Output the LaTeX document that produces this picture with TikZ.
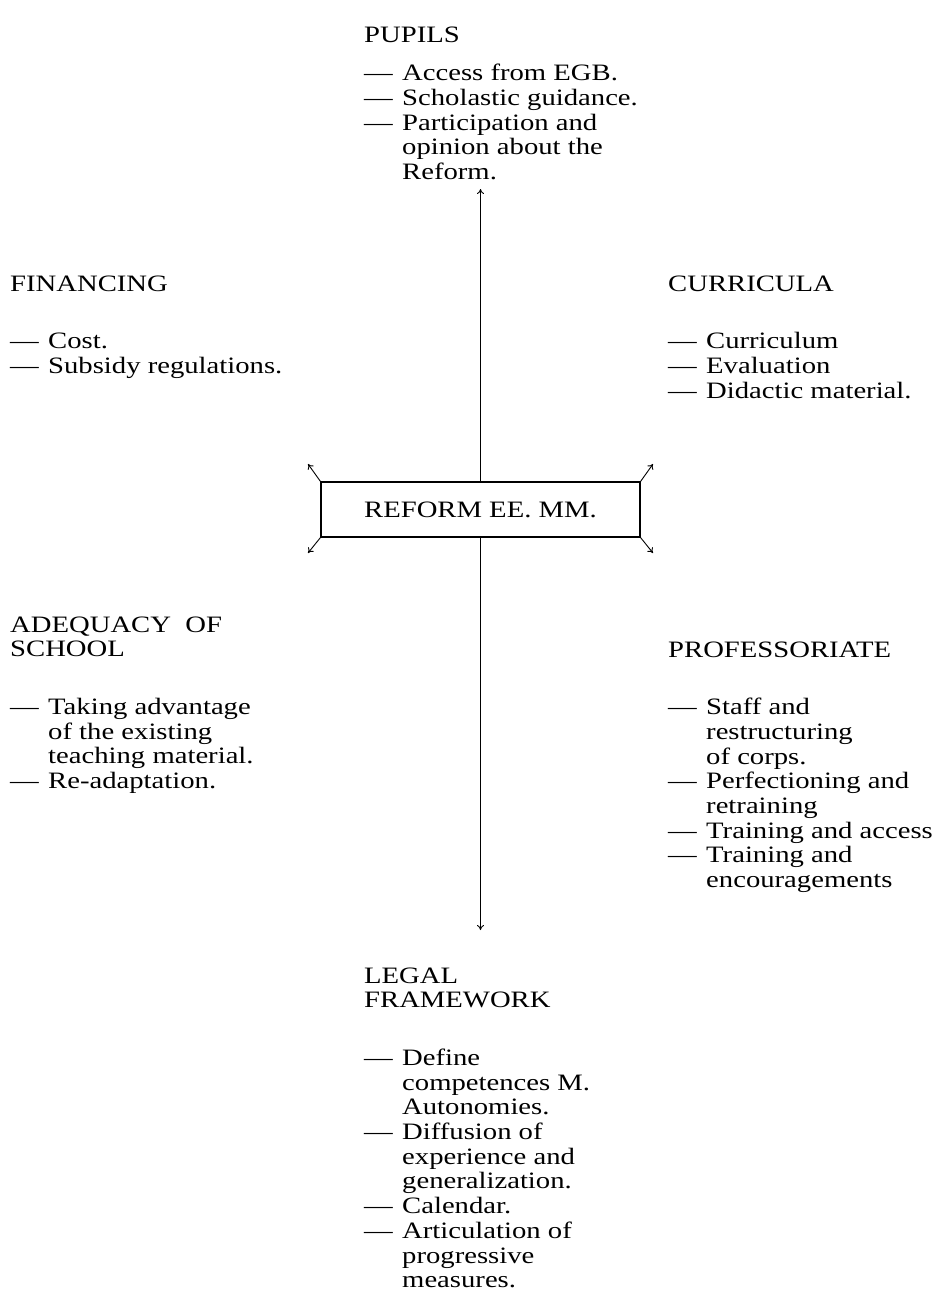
\documentclass[tikz,border=0pt]{standalone}
\usepackage{fontspec}
\setmainfont[FakeStretch=1.22]{Liberation Serif}
\usetikzlibrary{arrows.meta}
\newcommand{\hd}[1]{\multicolumn{2}{@{}l@{}}{#1}}
\newcommand{\dd}{\makebox[38pt][l]{—}}
\begin{document}
\begin{tikzpicture}[x=1pt,y=-1pt,
  blk/.style={anchor=base west, inner sep=0pt, font=\fontsize{23.5}{24.7}\selectfont},
  centerbox/.style={draw, line width=1.1pt, minimum width=319pt, minimum height=55pt, inner sep=0pt, font=\fontsize{23.5}{24.7}\selectfont},
  link/.style={line width=0.9pt, -{To[length=5pt,width=7pt]}},
  corner/.style={line width=0.9pt, -{To[length=5pt,width=7pt]}}]
\useasboundingbox (0,0) rectangle (936,1312);

\node[centerbox] (box) at (480.5,509.5) {REFORM EE. MM.};

\node[blk] (pupils) at (364,42) {\begin{tabular}[t]{@{}l@{}l@{}}
\hd{PUPILS}\\[14pt]
\dd & Access from EGB.\\
\dd & Scholastic guidance.\\
\dd & Participation and\\
 & opinion about the\\
 & Reform.
\end{tabular}};

\node[blk] (fin) at (10,291) {\begin{tabular}[t]{@{}l@{}l@{}}
\hd{FINANCING}\\[33pt]
\dd & Cost.\\
\dd & Subsidy regulations.
\end{tabular}};

\node[blk] (curr) at (668,291) {\begin{tabular}[t]{@{}l@{}l@{}}
\hd{CURRICULA}\\[33pt]
\dd & Curriculum\\
\dd & Evaluation\\
\dd & Didactic material.
\end{tabular}};

\node[blk] (adeq) at (10,632) {\begin{tabular}[t]{@{}l@{}l@{}}
\hd{ADEQUACY\ \ OF}\\
\hd{SCHOOL}\\[33pt]
\dd & Taking advantage\\
 & of the existing\\
 & teaching material.\\
\dd & Re-adaptation.
\end{tabular}};

\node[blk] (prof) at (668,657) {\begin{tabular}[t]{@{}l@{}l@{}}
\hd{PROFESSORIATE}\\[33pt]
\dd & Staff and\\
 & restructuring\\
 & of corps.\\
\dd & Perfectioning and\\
 & retraining\\
\dd & Training and access\\
\dd & Training and\\
 & encouragements
\end{tabular}};

\node[blk] (legal) at (364,983) {\begin{tabular}[t]{@{}l@{}l@{}}
\hd{LEGAL}\\
\hd{FRAMEWORK}\\[33pt]
\dd & Define\\
 & competences M.\\
 & Autonomies.\\
\dd & Diffusion of\\
 & experience and\\
 & generalization.\\
\dd & Calendar.\\
\dd & Articulation of\\
 & progressive\\
 & measures.
\end{tabular}};

\coordinate (toptip) at (480.5,189);
\coordinate (bottip) at (480.5,930);
\coordinate (tl) at (308,464);
\coordinate (tr) at (653,464);
\coordinate (bl) at (308,553);
\coordinate (br) at (653,553);

\draw[link] (box.north) -- (toptip);
\draw[link] (box.south) -- (bottip);
\draw[corner] (box.north west) -- (tl);
\draw[corner] (box.north east) -- (tr);
\draw[corner] (box.south west) -- (bl);
\draw[corner] (box.south east) -- (br);
\end{tikzpicture}
\end{document}
